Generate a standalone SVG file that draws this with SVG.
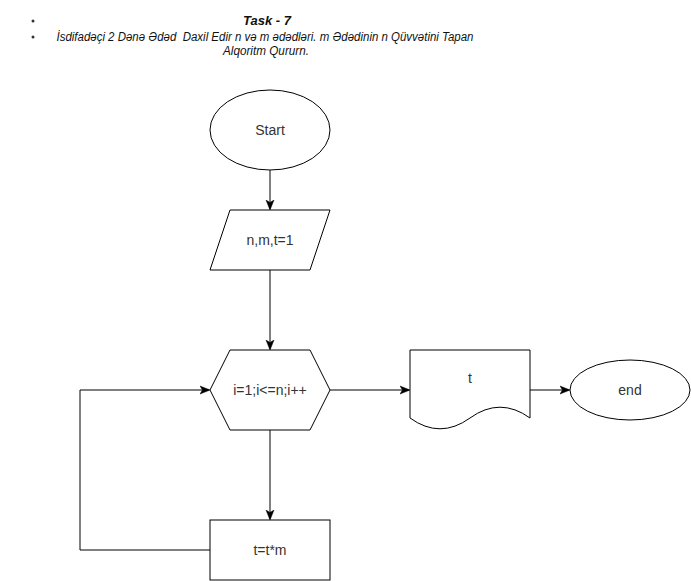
<svg xmlns="http://www.w3.org/2000/svg" width="691" height="581" viewBox="0 0 691 581">
<style>
.s{fill:#fff;stroke:#000;stroke-width:1}
.t{font-family:"Liberation Sans",Arial,sans-serif;font-size:14px;fill:#333;text-anchor:middle}
.h{font-family:"Liberation Sans",Arial,sans-serif;font-style:italic;fill:#111;text-anchor:middle}
.c{fill:none;stroke:#000;stroke-width:1}
</style>
<defs>
<marker id="a" viewBox="0 0 10 10" refX="9" refY="5" markerWidth="10" markerHeight="10" markerUnits="userSpaceOnUse" orient="auto">
<path d="M0,1 L10,5 L0,9 L2.5,5 Z" fill="#000" stroke="#000" stroke-width="0.5"/>
</marker>
</defs>
<rect width="691" height="581" fill="#fff"/>
<g id="title">
<circle cx="33" cy="21" r="1.5" fill="#333"/>
<circle cx="33" cy="37" r="1.5" fill="#333"/>
<text class="h" x="267" y="25" font-size="13" font-weight="bold">Task - 7</text>
<text class="h" x="265" y="41" font-size="12" textLength="417" lengthAdjust="spacingAndGlyphs" xml:space="preserve">İsdifadəçi 2 Dənə Ədəd  Daxil Edir n və m ədədləri. m Ədədinin n Qüvvətini Tapan</text>
<text class="h" x="266" y="55" font-size="12" textLength="86" lengthAdjust="spacingAndGlyphs">Alqoritm Qururn.</text>
</g>
<g id="connectors">
<path class="c" d="M270,170 L270,209" marker-end="url(#a)"/>
<path class="c" d="M270,270 L270,349" marker-end="url(#a)"/>
<path class="c" d="M270,430 L270,519" marker-end="url(#a)"/>
<path class="c" d="M210,550 L80,550 L80,390 L209,390" marker-end="url(#a)"/>
<path class="c" d="M330,390 L409,390" marker-end="url(#a)"/>
<path class="c" d="M530,390 L569,390" marker-end="url(#a)"/>
</g>
<g id="start">
<ellipse class="s" cx="270" cy="130" rx="60" ry="40"/>
<text class="t" x="270" y="135">Start</text>
</g>
<g id="input">
<path class="s" d="M230,210 L330,210 L310,270 L210,270 Z"/>
<text class="t" x="270" y="245">n,m,t=1</text>
</g>
<g id="loop">
<path class="s" d="M230,350 L310,350 L330,390 L310,430 L230,430 L210,390 Z"/>
<text class="t" x="270" y="395">i=1;i&lt;=n;i++</text>
</g>
<g id="body">
<rect class="s" x="210" y="520" width="120" height="60"/>
<text class="t" x="270" y="555">t=t*m</text>
</g>
<g id="output">
<path class="s" d="M410,350 L530,350 L530,418 Q500,396.4 470,418 Q440,439.6 410,418 Z"/>
<text class="t" x="470" y="383">t</text>
</g>
<g id="end">
<ellipse class="s" cx="630" cy="390" rx="60" ry="30"/>
<text class="t" x="630" y="395">end</text>
</g>
</svg>
